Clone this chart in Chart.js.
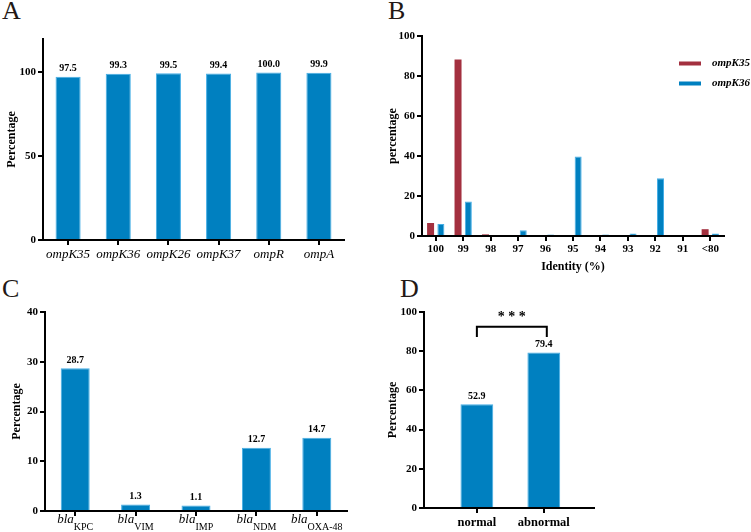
<!DOCTYPE html>
<html>
<head>
<meta charset="utf-8">
<script src="https://cdn.jsdelivr.net/npm/chart.js@4.4.1/dist/chart.umd.min.js"></script>
<style>
body { margin: 0; width: 751px; height: 532px; overflow: hidden; background: #fff; position: relative; }
canvas { position: absolute; }
.tag { position: absolute; font-family: 'Liberation Serif', serif; font-size: 26px; line-height: 1; color: #231815; }
</style>
</head>
<body>
<div class="tag" style="left:2px;top:-2px">A</div>
<div class="tag" style="left:388px;top:-2px">B</div>
<div class="tag" style="left:2px;top:276px">C</div>
<div class="tag" style="left:400px;top:276px">D</div>

<canvas id="chartA" width="350" height="240" style="left:0;top:30px"></canvas>
<canvas id="chartB" width="381" height="258" style="left:370px;top:20px"></canvas>
<canvas id="chartC" width="350" height="242" style="left:0;top:290px"></canvas>
<canvas id="chartD" width="230" height="242" style="left:370px;top:290px"></canvas>

<script>
// A : porins identity
var genesA  = ['ompK35', 'ompK36', 'ompK26', 'ompK37', 'ompR', 'ompA'];
var valuesA = [97.5, 99.3, 99.5, 99.4, 100.0, 99.9];
var yTicksA = [0, 50, 100];

// B : identity distribution
var identityB = ['100', '99', '98', '97', '96', '95', '94', '93', '92', '91', '<80'];
var ompK35B   = [6.5, 88.3, 0.8, 0, 0, 0, 0, 0, 0, 0, 3.4];
var ompK36B   = [6.0, 17.2, 0, 2.9, 0.8, 39.8, 0.8, 1.2, 28.9, 0, 1.3];
var yTicksB   = [0, 20, 40, 60, 80, 100];

// C : carbapenemase genes
var prefixC = 'bla';
var subsC   = ['KPC', 'VIM', 'IMP', 'NDM', 'OXA-48'];
var valuesC = [28.7, 1.3, 1.1, 12.7, 14.7];
var yTicksC = [0, 10, 20, 30, 40];

// D : normal vs abnormal
var groupsD  = ['normal', 'abnormal'];
var valuesD  = [52.9, 79.4];
var yTicksD  = [0, 20, 40, 60, 80, 100];
var sigTextD = '* * *';

var serif = '"Liberation Serif", "Times New Roman", serif';
var blue = '#0080c0', blueEdge = '#45aee6';
var red = '#a3303f', redEdge = '#b84a58';

function yAxis(max, list, title, titlePad, width) {
    return {
        min: 0,
        max: max,
        afterBuildTicks: function(axis) {
            axis.ticks = list.map(function(v) { return { value: v }; });
        },
        afterFit: function(axis) { axis.width = width; },
        border: { color: '#000', width: 2 },
        grid: { drawOnChartArea: false, drawTicks: true, tickLength: 5, color: '#000', lineWidth: 2 },
        ticks: { font: { family: serif, size: 11, weight: 'bold' }, color: '#000', padding: 2 },
        title: { display: true, text: title, color: '#000', font: { family: serif, size: 12, weight: 'bold' }, padding: { top: titlePad, bottom: 0 } }
    };
}

function xAxis(height, font) {
    return {
        afterFit: function(axis) { axis.height = height; },
        border: { color: '#000', width: 2 },
        grid: { drawOnChartArea: false, drawTicks: true, tickLength: 5, color: '#000', lineWidth: 2, offset: false },
        ticks: { font: font, color: '#000', padding: 2, maxRotation: 0, autoSkip: false }
    };
}

// numbers over the bars
var valueLabels = {
    id: 'valueLabels',
    afterDatasetsDraw: function(chart) {
        var ctx = chart.ctx;
        var meta = chart.getDatasetMeta(0);
        var data = chart.data.datasets[0].data;
        ctx.save();
        ctx.font = 'bold 10px ' + serif;
        ctx.fillStyle = '#000';
        ctx.textAlign = 'center';
        ctx.textBaseline = 'bottom';
        meta.data.forEach(function(bar, i) {
            var v = data[i];
            if (typeof v === 'object') v = v.y;
            ctx.fillText(v.toFixed(1), bar.x, bar.y - 3);
        });
        ctx.restore();
    }
};

var common = {
    responsive: false,
    animation: false,
    devicePixelRatio: 1
};

// ---- A
new Chart(document.getElementById('chartA'), {
    type: 'bar',
    data: {
        labels: genesA,
        datasets: [{ data: valuesA, backgroundColor: blue, borderColor: blueEdge, borderWidth: 1, borderSkipped: 'bottom', categoryPercentage: 0.5, barPercentage: 1 }]
    },
    options: Object.assign({}, common, {
        layout: { padding: { top: 9, right: 6, left: 0, bottom: 0 } },
        plugins: { legend: { display: false }, tooltip: { enabled: false } },
        scales: {
            x: xAxis(30, { family: serif, size: 13, style: 'italic' }),
            y: yAxis(120, yTicksA, 'Percentage', 5, 43)
        }
    }),
    plugins: [valueLabels]
});

// ---- B
var legendB = {
    id: 'legendB',
    afterDraw: function(chart) {
        var ctx = chart.ctx, area = chart.chartArea;
        ctx.save();
        chart.data.datasets.forEach(function(ds, i) {
            var y = area.top + 27.5 + i * 20;
            ctx.fillStyle = ds.backgroundColor;
            ctx.fillRect(area.right - 45, y - 2, 22, 4);
            ctx.fillStyle = '#000';
            ctx.font = 'italic bold 11px ' + serif;
            ctx.textAlign = 'left';
            ctx.textBaseline = 'middle';
            ctx.fillText(ds.label, area.right - 12, y);
        });
        ctx.restore();
    }
};

var xB = xAxis(42, { family: serif, size: 11, weight: 'bold' });
xB.title = { display: true, text: 'Identity (%)', color: '#000', font: { family: serif, size: 12, weight: 'bold' }, padding: { top: 0, bottom: 4 } };

new Chart(document.getElementById('chartB'), {
    type: 'bar',
    data: {
        labels: identityB,
        datasets: [
            { label: 'ompK35', data: ompK35B, backgroundColor: red, borderColor: redEdge, borderWidth: 0, categoryPercentage: 0.75, barPercentage: 0.68 },
            { label: 'ompK36', data: ompK36B, backgroundColor: blue, borderColor: blueEdge, borderWidth: 1, borderSkipped: 'bottom', categoryPercentage: 0.75, barPercentage: 0.68 }
        ]
    },
    options: Object.assign({}, common, {
        layout: { padding: { top: 16, right: 27, left: 0, bottom: 0 } },
        plugins: { legend: { display: false }, tooltip: { enabled: false } },
        scales: {
            x: xB,
            y: yAxis(100, yTicksB, 'percentage', 16, 52)
        }
    }),
    plugins: [legendB]
});

// ---- C
var subLabels = {
    id: 'subLabels',
    afterDraw: function(chart) {
        var ctx = chart.ctx, xs = chart.scales.x, base = chart.chartArea.bottom;
        ctx.save();
        ctx.fillStyle = '#000';
        ctx.textBaseline = 'alphabetic';
        ctx.textAlign = 'left';
        subsC.forEach(function(s, i) {
            var x = xs.getPixelForValue(i);
            ctx.font = 'italic 13px ' + serif;
            var w1 = ctx.measureText(prefixC).width;
            ctx.font = '10px ' + serif;
            var w2 = ctx.measureText(s).width;
            var x0 = x - (w1 + w2) / 2;
            ctx.font = 'italic 13px ' + serif;
            ctx.fillText(prefixC, x0, base + 12);
            ctx.font = '10px ' + serif;
            ctx.fillText(s, x0 + w1, base + 19);
        });
        ctx.restore();
    }
};

var xC = xAxis(21, { family: serif, size: 13 });
xC.ticks.display = false;

new Chart(document.getElementById('chartC'), {
    type: 'bar',
    data: {
        labels: subsC.map(function(s) { return prefixC + s; }),
        datasets: [{ data: valuesC, backgroundColor: blue, borderColor: blueEdge, borderWidth: 1, borderSkipped: 'bottom', categoryPercentage: 0.48, barPercentage: 1 }]
    },
    options: Object.assign({}, common, {
        layout: { padding: { top: 22, right: 3, left: 0, bottom: 0 } },
        plugins: { legend: { display: false }, tooltip: { enabled: false } },
        scales: {
            x: xC,
            y: yAxis(40, yTicksC, 'Percentage', 10, 45)
        }
    }),
    plugins: [valueLabels, subLabels]
});

// ---- D
var sigBracket = {
    id: 'sigBracket',
    afterDraw: function(chart) {
        var ctx = chart.ctx, xs = chart.scales.x, ys = chart.scales.y;
        var x1 = xs.getPixelForValue(0), x2 = xs.getPixelForValue(1) + 3;
        var yTop = ys.getPixelForValue(92.5), yEnd = ys.getPixelForValue(87.3);
        ctx.save();
        ctx.strokeStyle = '#000';
        ctx.lineWidth = 2;
        ctx.beginPath();
        ctx.moveTo(x1, yEnd);
        ctx.lineTo(x1, yTop);
        ctx.lineTo(x2, yTop);
        ctx.lineTo(x2, yEnd);
        ctx.stroke();
        ctx.fillStyle = '#000';
        ctx.font = 'bold 14px ' + serif;
        ctx.textAlign = 'center';
        ctx.textBaseline = 'middle';
        ctx.fillText(sigTextD, (x1 + x2) / 2, ys.getPixelForValue(97.5));
        ctx.restore();
    }
};

var xD = xAxis(24, { family: serif, size: 12.5, weight: 'bold' });
xD.type = 'linear';
xD.min = -0.79;
xD.max = 1.75;
xD.offset = false;
xD.afterBuildTicks = function(axis) {
    axis.ticks = groupsD.map(function(g, i) { return { value: i }; });
};
xD.ticks.callback = function(v) { return groupsD[v]; };

new Chart(document.getElementById('chartD'), {
    type: 'bar',
    data: {
        datasets: [{
            data: groupsD.map(function(g, i) { return { x: i, y: valuesD[i] }; }),
            backgroundColor: blue, borderColor: blueEdge, borderWidth: 1, borderSkipped: 'bottom',
            categoryPercentage: 0.49, barPercentage: 1
        }]
    },
    options: Object.assign({}, common, {
        layout: { padding: { top: 22, right: 6, left: 0, bottom: 0 } },
        plugins: { legend: { display: false }, tooltip: { enabled: false } },
        scales: {
            x: xD,
            y: yAxis(100, yTicksD, 'Percentage', 16, 54)
        }
    }),
    plugins: [valueLabels, sigBracket]
});
</script>
</body>
</html>
